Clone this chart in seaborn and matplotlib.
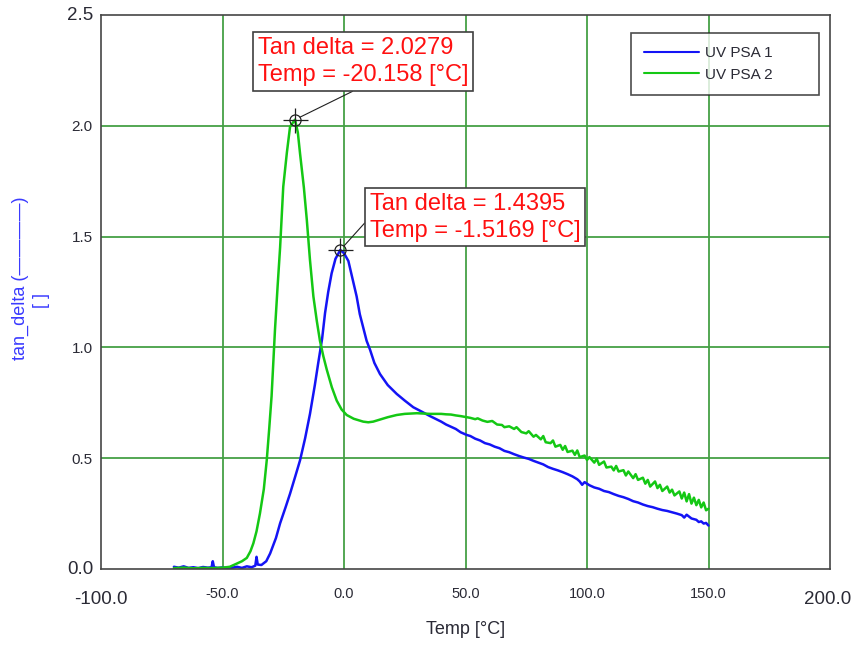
import numpy as np
import pandas as pd
import seaborn as sns
import matplotlib.pyplot as plt

# ---- measured tan delta curves -------------------------------------------
temp_psa1 = [-70, -68, -66, -64, -62, -60, -58, -56, -54.5, -54, -53.5, -52, -50,
             -48, -46, -44, -42, -40, -38, -36.5, -36, -35.5, -34, -32, -30.4, -28,
             -26.3, -24, -22.2, -20, -18.1, -16, -14, -12, -10.6, -9, -7.8, -6.5,
             -5.1, -3.5, -1.5169, 0, 1.8, 3.5, 5.2, 6.5, 7.9, 9.3, 10.7, 12.5, 14.8,
             18, 21.7, 25, 28.5, 32, 35.4, 40, 42, 44, 46, 48, 50.5, 52, 54, 56, 58,
             60, 62, 64, 66, 68, 70, 72, 74, 76, 78, 80, 82, 84, 86, 88, 90, 92, 94,
             96, 97, 98, 99, 101, 103, 105, 107, 109, 111, 113, 115, 117, 119, 121,
             123, 125, 127, 129, 131, 133, 135, 137, 139, 140, 141, 143, 145, 146,
             147, 148, 149, 150]
tan_psa1 = [0.010, 0.006, 0.012, 0.005, 0.008, 0.004, 0.009, 0.006, 0.008, 0.035,
            0.008, 0.005, 0.007, 0.004, 0.006, 0.010, 0.005, 0.012, 0.008, 0.015,
            0.055, 0.020, 0.018, 0.035, 0.070, 0.140, 0.206, 0.280, 0.340, 0.420,
            0.490, 0.590, 0.700, 0.830, 0.930, 1.040, 1.155, 1.250, 1.334, 1.400,
            1.4395, 1.425, 1.390, 1.310, 1.230, 1.150, 1.090, 1.030, 0.990, 0.930,
            0.880, 0.830, 0.790, 0.760, 0.730, 0.710, 0.690, 0.665, 0.652, 0.642,
            0.632, 0.617, 0.605, 0.600, 0.588, 0.580, 0.568, 0.562, 0.552, 0.545,
            0.533, 0.527, 0.518, 0.510, 0.503, 0.497, 0.488, 0.480, 0.472, 0.460,
            0.452, 0.445, 0.437, 0.428, 0.418, 0.405, 0.395, 0.380, 0.392, 0.378,
            0.368, 0.362, 0.352, 0.347, 0.338, 0.330, 0.324, 0.316, 0.306, 0.300,
            0.291, 0.284, 0.279, 0.272, 0.266, 0.262, 0.256, 0.250, 0.243, 0.232,
            0.245, 0.228, 0.222, 0.212, 0.215, 0.205, 0.208, 0.196]

temp_psa2 = [-70, -66, -62, -58, -54, -50, -47, -45, -42, -40, -38.5, -37.3, -36,
             -34.6, -33, -31.8, -30.8, -29.8, -28.4, -27.3, -26.3, -25, -23.5, -22.2,
             -20.158, -19, -18.1, -16.5, -15.3, -14, -12.6, -11.2, -9.9, -8.5, -7.1,
             -5, -3, -1, 1.1, 4, 7.9, 10, 12, 15, 18, 21.7, 25, 30, 35.4, 40, 42, 44,
             46, 48, 50, 52, 54, 55, 57, 59, 61, 63, 65, 66, 68, 70, 71, 73, 75, 76,
             78, 79, 81, 82, 83, 85, 86, 87, 89, 90, 91, 92, 94, 95, 96, 97, 99, 100,
             101, 103, 104, 105, 107, 108, 110, 111, 112, 113, 115, 116, 117, 119,
             120, 121, 123, 124, 125, 126, 128, 129, 130, 131, 133, 134, 135, 136,
             138, 139, 140, 141, 142, 143, 144, 145, 146, 147, 148, 149, 150]
tan_psa2 = [0.004, 0.006, 0.003, 0.005, 0.004, 0.006, 0.010, 0.020, 0.035, 0.050,
            0.080, 0.116, 0.170, 0.250, 0.360, 0.490, 0.630, 0.780, 1.080, 1.280,
            1.450, 1.725, 1.880, 1.996, 2.0279, 1.970, 1.876, 1.720, 1.575, 1.394,
            1.230, 1.120, 1.030, 0.960, 0.900, 0.820, 0.760, 0.720, 0.695, 0.678,
            0.665, 0.662, 0.665, 0.675, 0.685, 0.695, 0.700, 0.703, 0.700, 0.700,
            0.698, 0.697, 0.693, 0.690, 0.686, 0.682, 0.676, 0.680, 0.670, 0.664,
            0.668, 0.652, 0.650, 0.640, 0.644, 0.632, 0.640, 0.618, 0.612, 0.622,
            0.597, 0.605, 0.585, 0.600, 0.572, 0.568, 0.580, 0.552, 0.560, 0.538,
            0.555, 0.528, 0.534, 0.515, 0.535, 0.505, 0.512, 0.492, 0.505, 0.480,
            0.498, 0.470, 0.485, 0.458, 0.462, 0.445, 0.465, 0.440, 0.446, 0.422,
            0.440, 0.410, 0.428, 0.402, 0.412, 0.385, 0.402, 0.372, 0.395, 0.365,
            0.380, 0.352, 0.372, 0.345, 0.358, 0.332, 0.350, 0.318, 0.345, 0.305,
            0.338, 0.295, 0.322, 0.288, 0.312, 0.278, 0.300, 0.265, 0.272]

series_names = ["UV PSA 1", "UV PSA 2"]
series_colors = ["#1414f5", "#14c814"]

x_ticks = [-50, 0, 50, 100, 150]
x_tick_labels = ["-50.0", "0.0", "50.0", "100.0", "150.0"]
y_ticks = [0.5, 1.0, 1.5, 2.0]
y_tick_labels = ["0.5", "1.0", "1.5", "2.0"]

# ---- styling ----------------------------------------------------------------
sns.set_style("white")
plt.rcParams["font.family"] = ["Liberation Sans", "DejaVu Sans"]
text_dark = "#2a2a35"

df = pd.concat([
    pd.DataFrame({"Temp": temp_psa1, "tan_delta": tan_psa1, "Sample": series_names[0]}),
    pd.DataFrame({"Temp": temp_psa2, "tan_delta": tan_psa2, "Sample": series_names[1]}),
], ignore_index=True)

fig = plt.figure(figsize=(8.54, 6.5), dpi=100)
ax = fig.add_axes([101 / 854, 1 - 569 / 650, 729 / 854, 554 / 650])

sns.lineplot(data=df, x="Temp", y="tan_delta", hue="Sample",
             palette=dict(zip(series_names, series_colors)),
             estimator=None, sort=False, linewidth=1.8, ax=ax)

ax.set_xlim(-100, 200)
ax.set_ylim(0, 2.5)

# grid and frame
ax.set_axisbelow(True)
ax.grid(True, which="major", color="#45a045", linewidth=1.3)
for sp in ax.spines.values():
    sp.set_color("#454545")
    sp.set_linewidth(1.2)

ax.set_xticks(x_ticks)
ax.set_xticklabels(x_tick_labels, fontsize=10.5, color=text_dark)
ax.set_xticks(np.arange(-90, 200, 10), minor=True)
ax.tick_params(axis="x", which="major", direction="in", length=8, width=1,
               color="#555555", pad=13)
ax.tick_params(axis="x", which="minor", direction="in", length=4, width=1,
               color="#555555")
ax.set_yticks(y_ticks)
ax.set_yticklabels(y_tick_labels, fontsize=11, color=text_dark)
ax.tick_params(axis="y", which="both", length=0, pad=6)

# larger end-of-range labels
ax.annotate("-100.0", xy=(-100, 0), xytext=(0, -31), textcoords="offset pixels",
            ha="center", va="center", fontsize=13.5, color=text_dark,
            annotation_clip=False)
ax.annotate("200.0", xy=(200, 0), xytext=(-2, -31), textcoords="offset pixels",
            ha="center", va="center", fontsize=13.5, color=text_dark,
            annotation_clip=False)
ax.annotate("2.5", xy=(-100, 2.5), xytext=(-8, 0), textcoords="offset pixels",
            ha="right", va="center", fontsize=13.5, color=text_dark,
            annotation_clip=False)
ax.annotate("0.0", xy=(-100, 0), xytext=(-8, 0), textcoords="offset pixels",
            ha="right", va="center", fontsize=13.5, color=text_dark,
            annotation_clip=False)

ax.set_xlabel("Temp [°C]", fontsize=13, color=text_dark, labelpad=14)
ax.set_ylabel("")
fig.text(20 / 854, 1 - 278 / 650, "tan_delta (\u2014\u2014\u2014\u2014)", rotation=90,
         ha="center", va="center", fontsize=13, color="#3a3aff")
fig.text(42 / 854, 1 - 300 / 650, "[ ]", rotation=90,
         ha="center", va="center", fontsize=13, color="#3a3aff")

# legend
leg = ax.legend(loc="upper left", bbox_to_anchor=(0.727, 0.8616, 0.258, 0.106),
                mode="expand", borderaxespad=0, fancybox=False, fontsize=11,
                handlelength=3.6, handletextpad=0.4, borderpad=0.85,
                labelspacing=0.5, title=None)
leg.get_frame().set_edgecolor("#202020")
leg.get_frame().set_linewidth(1.2)
for t in leg.get_texts():
    t.set_color(text_dark)
for h in leg.get_lines():
    h.set_linewidth(1.5)

# peak markers and their value boxes
peaks = []
for temps, vals in ((temp_psa2, tan_psa2), (temp_psa1, tan_psa1)):
    i = int(np.argmax(vals))
    peaks.append((temps[i], vals[i]))

box_style = dict(boxstyle="square,pad=0.2", fc="white", ec="#404040", lw=1.2)
text_pos = [(-35.4, 2.29), (10.7, 1.588)]
rel_pos = [(0.5, 0.0), (0.0, 0.5)]
for (px, py), (tx, ty), rp in zip(peaks, text_pos, rel_pos):
    ax.plot([px], [py], marker="o", ms=8, mfc="none", mec="#202020", mew=0.9)
    ax.plot([px], [py], marker="+", ms=18, mec="#202020", mew=0.9)
    ax.annotate(f"Tan delta = {py:.5g}\nTemp = {px:.5g} [°C]",
                xy=(px, py), xytext=(tx, ty), textcoords="data",
                ha="left", va="center", color="#ff1010", fontsize=17,
                linespacing=1.3, bbox=box_style,
                arrowprops=dict(arrowstyle="-", color="#202020", lw=0.8,
                                relpos=rp, shrinkA=0, shrinkB=4))

fig.savefig("out.png", dpi=100, facecolor="white")
